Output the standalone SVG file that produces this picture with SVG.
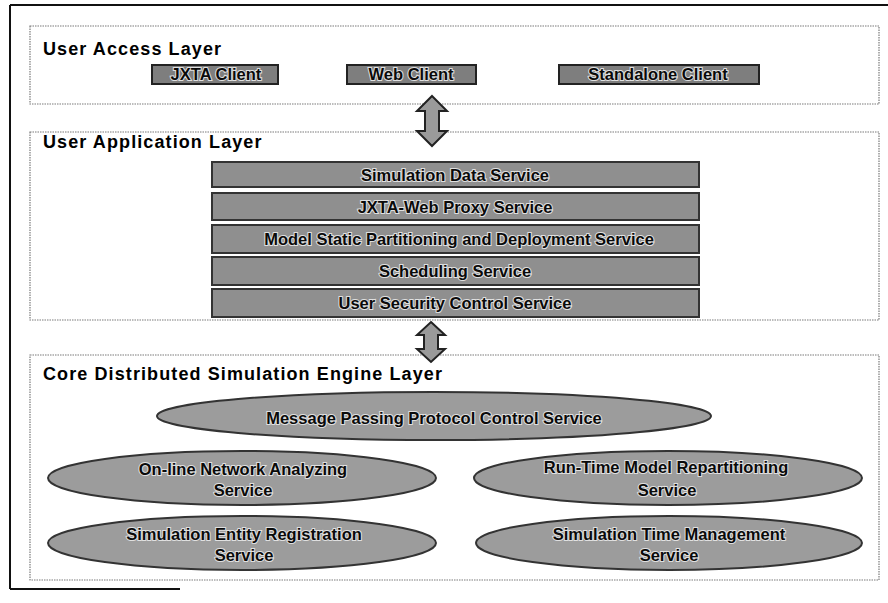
<svg xmlns="http://www.w3.org/2000/svg" width="888" height="603" viewBox="0 0 888 603">
<style>
.layer{fill:#fff;stroke:#7a7a7a;stroke-width:1.2;stroke-dasharray:1.5 1}
.title{font-family:"Liberation Sans",Arial,sans-serif;font-weight:bold;font-size:18px;letter-spacing:1.1px;fill:#000}
.client{fill:#7e7e7e;stroke:#222;stroke-width:2}
.bar{fill:#8f8f8f;stroke:#333;stroke-width:2}
.ell{fill:#9c9c9c;stroke:#333;stroke-width:2}
.lbl{font-family:"Liberation Sans",Arial,sans-serif;font-weight:bold;font-size:16.5px;fill:#0a0a0a;stroke:#e0e0e0;stroke-width:2;paint-order:stroke;text-anchor:middle}
.arrow{fill:#9a9a9a;stroke:#222;stroke-width:2;stroke-linejoin:miter}
.frame{stroke:#111;stroke-width:2;fill:none}
</style>
<rect width="888" height="603" fill="#fff"/>
<g id="frame">
<line class="frame" x1="10" y1="5" x2="888" y2="5"/>
<line class="frame" x1="10" y1="5" x2="10" y2="589"/>
<line class="frame" x1="10" y1="589" x2="180" y2="589"/>
</g>
<g id="layer-access">
<rect class="layer" x="30" y="26" width="849" height="78"/>
<text class="title" x="43" y="55">User Access Layer</text>
</g>
<g id="jxta-client">
<rect class="client" x="152" y="65" width="126" height="19"/>
<text class="lbl" x="216" y="80">JXTA Client</text>
</g>
<g id="web-client">
<rect class="client" x="347" y="65" width="129" height="19"/>
<text class="lbl" x="411" y="80">Web Client</text>
</g>
<g id="standalone-client">
<rect class="client" x="559" y="65" width="200" height="19"/>
<text class="lbl" x="658" y="80">Standalone Client</text>
</g>
<g id="layer-application">
<rect class="layer" x="30" y="132" width="849" height="188"/>
<text class="title" x="43" y="148">User Application Layer</text>
</g>
<g id="simulation-data-service">
<rect class="bar" x="212" y="162" width="487" height="25"/>
<text class="lbl" x="455" y="181">Simulation Data Service</text>
</g>
<g id="jxta-web-proxy-service">
<rect class="bar" x="212" y="193" width="487" height="27"/>
<text class="lbl" x="455" y="213">JXTA-Web Proxy Service</text>
</g>
<g id="model-static-partitioning-service">
<rect class="bar" x="212" y="225" width="487" height="28"/>
<text class="lbl" x="459" y="245">Model Static Partitioning and Deployment Service</text>
</g>
<g id="scheduling-service">
<rect class="bar" x="212" y="257" width="487" height="28"/>
<text class="lbl" x="455" y="277">Scheduling Service</text>
</g>
<g id="user-security-control-service">
<rect class="bar" x="212" y="289" width="487" height="28"/>
<text class="lbl" x="455" y="309">User Security Control Service</text>
</g>
<g id="layer-core">
<rect class="layer" x="30" y="355" width="849" height="225"/>
<text class="title" x="43" y="380">Core Distributed Simulation Engine Layer</text>
</g>
<g id="message-passing-service">
<ellipse class="ell" cx="434" cy="416" rx="277" ry="24"/>
<text class="lbl" x="434" y="424">Message Passing Protocol Control Service</text>
</g>
<g id="online-network-analyzing-service">
<ellipse class="ell" cx="242" cy="478" rx="194" ry="27"/>
<text class="lbl" x="243" y="475">On-line Network Analyzing</text>
<text class="lbl" x="243" y="496">Service</text>
</g>
<g id="runtime-model-repartitioning-service">
<ellipse class="ell" cx="668" cy="478" rx="194" ry="27"/>
<text class="lbl" x="666" y="473">Run-Time Model Repartitioning</text>
<text class="lbl" x="667" y="496">Service</text>
</g>
<g id="simulation-entity-registration-service">
<ellipse class="ell" cx="242" cy="543" rx="194" ry="27"/>
<text class="lbl" x="244" y="540">Simulation Entity Registration</text>
<text class="lbl" x="244" y="561">Service</text>
</g>
<g id="simulation-time-management-service">
<ellipse class="ell" cx="669" cy="543" rx="193" ry="27"/>
<text class="lbl" x="669" y="540">Simulation Time Management</text>
<text class="lbl" x="669" y="561">Service</text>
</g>
<g id="connectors">
<path class="arrow" d="M432,96 L447,111 L439,111 L439,131 L447,131 L432,146 L417,131 L425,131 L425,111 L417,111 Z"/>
<path class="arrow" d="M431,322 L445,335 L438,335 L438,349 L445,349 L431,362 L417,349 L424,349 L424,335 L417,335 Z"/>
</g>
</svg>
